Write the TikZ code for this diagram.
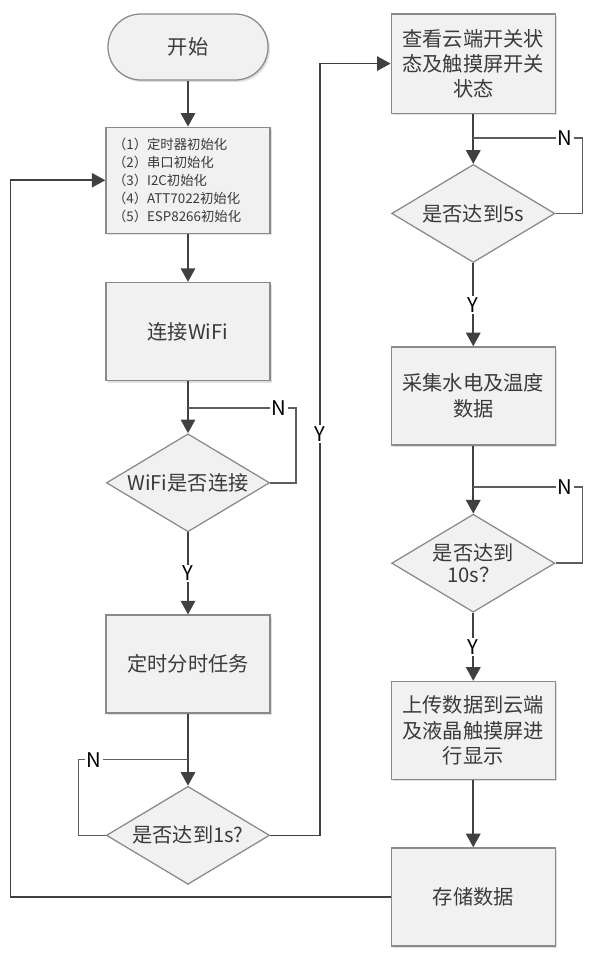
\documentclass[tikz,border=0pt]{standalone}
\usepackage{fontspec}
\setmainfont{Noto Sans CJK SC}
\usepackage{xcolor}
\usepackage{tikz}
\usetikzlibrary{shapes.geometric, arrows.meta, positioning, shadows}
\definecolor{boxfill}{HTML}{F1F1F1}
\definecolor{boxstroke}{HTML}{8A8A8A}
\definecolor{arrowcolor}{HTML}{404040}
\definecolor{textcolor}{HTML}{3A3A3A}

\begin{document}
\begin{tikzpicture}[
        node distance=1.2cm and 1.8cm,
        box/.style={
            rectangle,
            minimum width=4.1cm,
            minimum height=2.45cm,
            draw=boxstroke,
            line width=0.9pt,
            fill=boxfill,
            align=center,
            text=textcolor,
            font=\fontsize{14.4}{18}\selectfont,
            drop shadow={opacity=0.25, shadow xshift=0.05cm, shadow yshift=-0.05cm}
        },
        terminal/.style={box, rounded corners=0.82cm, minimum width=4.0cm, minimum height=1.65cm},
        decision/.style={
            diamond,
            aspect=1.665,
            minimum width=4.08cm,
            minimum height=2.45cm,
            inner sep=0pt,
            draw=boxstroke,
            line width=0.9pt,
            fill=boxfill,
            align=center,
            text=textcolor,
            font=\fontsize{14.4}{16}\selectfont
        },
        arrow/.style={-{Triangle[width=0.36cm, length=0.34cm]}, line width=1.4pt, draw=arrowcolor},
        loopline/.style={line width=1.1pt, draw=arrowcolor!85},
        tag/.style={fill=white, inner sep=1pt, text=black, font=\Large}
    ]
        \useasboundingbox (0,0) rectangle (14.8,-23.9);

        % Left column
        \node[terminal] (start) at (4.7,-1.175) {开始};
        \node[box, below=1.15cm of start, minimum height=2.65cm, align=left, text width=3.75cm,
              font=\fontsize{9.5}{12.8}\selectfont] (init)
            {（1）定时器初始化\\（2）串口初始化\\（3）I2C初始化\\（4）ATT7022初始化\\（5）ESP8266初始化};
        \node[box, below=1.2cm of init] (wifi) {连接WiFi};
        \node[decision, below=1.3cm of wifi] (wifiq) {WiFi是否连接};
        \node[box, below=2.05cm of wifiq] (timer) {定时分时任务};
        \node[decision, below=1.8cm of timer] (timeq) {是否达到1s?};

        % Right column
        \node[box, right=3.05cm of start.north east, anchor=north west, minimum height=2.48cm] (check)
            {查看云端开关状\\态及触摸屏开关\\状态};
        \node[decision, below=1.25cm of check] (fiveq) {是否达到5s};
        \node[box, below=2.08cm of fiveq] (collect) {采集水电及温度\\数据};
        \node[decision, below=1.7cm of collect] (tenq) {是否达到\\10s？};
        \node[box, below=1.7cm of tenq] (upload) {上传数据到云端\\及液晶触摸屏进\\行显示};
        \node[box, below=1.68cm of upload] (store) {存储数据};

        % Arrows
        \draw[arrow] (start) -- (init);
        \draw[arrow] (init) -- (wifi);
        \draw[arrow] (wifi) -- (wifiq);
        \draw[arrow] (wifiq) -- node[tag] {Y} (timer);
        \draw[arrow] (timer) -- (timeq);

        \draw[arrow] (check) -- (fiveq);
        \draw[arrow] (fiveq) -- node[tag] {Y} (collect);
        \draw[arrow] (collect) -- (tenq);
        \draw[arrow] (tenq) -- node[tag] {Y} (upload);
        \draw[arrow] (upload) -- (store);

        % Loops
        \draw[loopline] (wifiq.east) -- ++(0.65,0) |- node[tag, pos=0.58] {N} ([yshift=0.63cm]wifiq.north);
        \draw[loopline] (timeq.west) -- ++(-0.68,0) |- node[tag, pos=0.57] {N} ([yshift=0.65cm]timeq.north);
        \draw[loopline] (fiveq.east) -- ++(0.68,0) |- node[tag, pos=0.58] {N} ([yshift=0.65cm]fiveq.north);
        \draw[loopline] (tenq.east) -- ++(0.68,0) |- node[tag, pos=0.58] {N} ([yshift=0.67cm]tenq.north);
        \draw[arrow, line width=1.1pt] (timeq.east) -- ++(1.25,0) |- node[tag, pos=0.26] {Y} (check.west);
        \draw[arrow, line width=1.1pt] (store.west) -- ++(-9.5,0) |- (init.west);

    \end{tikzpicture}
\end{document}
